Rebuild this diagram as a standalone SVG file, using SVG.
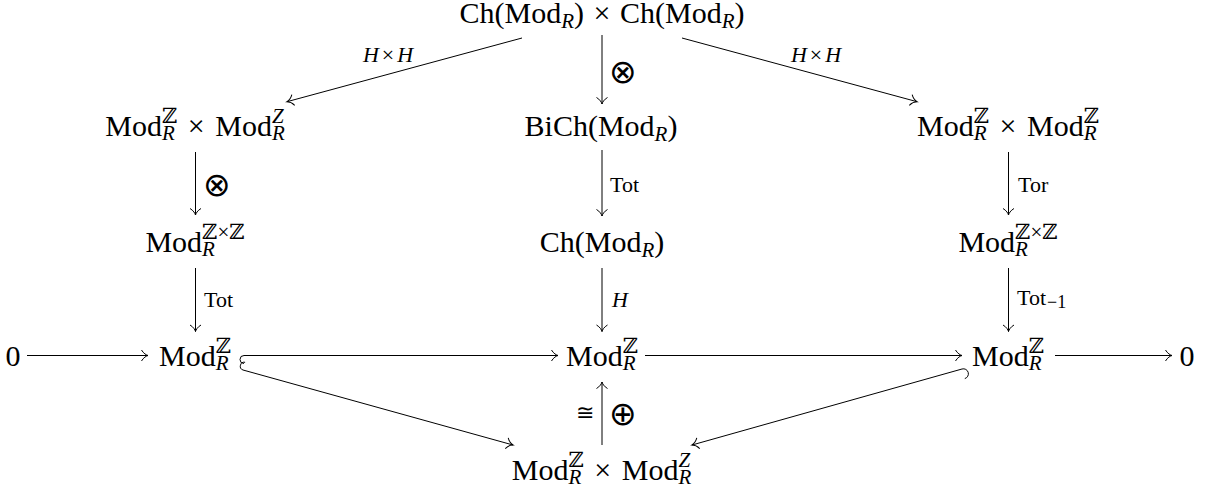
<svg xmlns="http://www.w3.org/2000/svg" width="1210" height="496" viewBox="0 0 1210 496">
<defs>
<style>
.m{font-family:"Liberation Serif",serif;font-size:30px;fill:#000}
.s{font-size:21px}
.i{font-style:italic}
.bb{font-family:"DejaVu Serif",serif}
.l{font-family:"Liberation Serif",serif;font-size:22px;fill:#000}
.op{font-family:"DejaVu Sans",sans-serif;font-size:33px;font-weight:200;fill:#000}
.c path{fill:none;stroke:#000;stroke-width:1}
.c .a{marker-end:url(#ah)}
</style>
<marker id="ah" markerUnits="userSpaceOnUse" orient="auto" refX="0" refY="0" markerWidth="20" markerHeight="20" viewBox="-10 -10 20 20" overflow="visible">
<path d="M-6.5,-5.5 C-4.5,-2 -1.5,-0.4 0,0 C-1.5,0.4 -4.5,2 -6.5,5.5" fill="none" stroke="#000" stroke-width="1"/>
</marker>
</defs>
<rect width="1210" height="496" fill="#fff"/>

<g id="n-top"><text class="m" x="602" y="23" text-anchor="middle">Ch(Mod<tspan class="s i" dy="5">R</tspan><tspan dy="-5">)</tspan><tspan dx="2"> ×</tspan><tspan dx="2"> Ch(Mod</tspan><tspan class="s i" dy="5">R</tspan><tspan dy="-5">)</tspan></text></g>

<g id="n-l2"><text class="m" x="195" y="136" text-anchor="middle">Mod<tspan class="s i" dy="4">R</tspan><tspan class="s bb" dx="-12.83" dy="-17">ℤ</tspan><tspan dy="13" dx="3"> ×</tspan><tspan dx="3"> Mod</tspan><tspan class="s i" dy="4">R</tspan><tspan class="s i" dx="-12.83" dy="-17">Z</tspan></text></g>

<g id="n-m2"><text class="m" x="601" y="136" text-anchor="middle">BiCh(Mod<tspan class="s i" dy="5">R</tspan><tspan dy="-5">)</tspan></text></g>

<g id="n-r2"><text class="m" x="1008" y="136" text-anchor="middle">Mod<tspan class="s i" dy="4">R</tspan><tspan class="s bb" dx="-12.83" dy="-17">ℤ</tspan><tspan dy="13" dx="3"> ×</tspan><tspan dx="3"> Mod</tspan><tspan class="s i" dy="4">R</tspan><tspan class="s bb" dx="-12.83" dy="-17">ℤ</tspan></text></g>

<g id="n-l3"><text class="m" x="195" y="252" text-anchor="middle">Mod<tspan class="s i" dy="4">R</tspan><tspan class="s bb" dx="-12.83" dy="-17">ℤ</tspan><tspan class="s">×</tspan><tspan class="s bb">ℤ</tspan></text></g>

<g id="n-m3"><text class="m" x="602" y="252" text-anchor="middle">Ch(Mod<tspan class="s i" dy="5">R</tspan><tspan dy="-5">)</tspan></text></g>

<g id="n-r3"><text class="m" x="1008" y="252" text-anchor="middle">Mod<tspan class="s i" dy="4">R</tspan><tspan class="s bb" dx="-12.83" dy="-17">ℤ</tspan><tspan class="s">×</tspan><tspan class="s bb">ℤ</tspan></text></g>

<g id="n-z1"><text class="m" x="13" y="366" text-anchor="middle">0</text></g>

<g id="n-l4"><text class="m" x="195" y="366" text-anchor="middle">Mod<tspan class="s i" dy="4">R</tspan><tspan class="s bb" dx="-12.83" dy="-17">ℤ</tspan></text></g>

<g id="n-m4"><text class="m" x="602" y="366" text-anchor="middle">Mod<tspan class="s i" dy="4">R</tspan><tspan class="s bb" dx="-12.83" dy="-17">ℤ</tspan></text></g>

<g id="n-r4"><text class="m" x="1008" y="366" text-anchor="middle">Mod<tspan class="s i" dy="4">R</tspan><tspan class="s bb" dx="-12.83" dy="-17">ℤ</tspan></text></g>

<g id="n-z2"><text class="m" x="1187" y="366" text-anchor="middle">0</text></g>

<g id="n-b5"><text class="m" x="601.5" y="480" text-anchor="middle">Mod<tspan class="s i" dy="4">R</tspan><tspan class="s bb" dx="-12.83" dy="-17">ℤ</tspan><tspan dy="13" dx="3"> ×</tspan><tspan dx="3"> Mod</tspan><tspan class="s i" dy="4">R</tspan><tspan class="s i" dx="-12.83" dy="-17">Z</tspan></text></g>

<g id="connectors" class="c">
<path class="a" d="M522 38 L287 101.7"/>
<path class="a" d="M602 35 L602 104"/>
<path class="a" d="M682 38 L917 101.7"/>
<path class="a" d="M195.5 152 L195.5 215"/>
<path class="a" d="M195.5 268 L195.5 331.5"/>
<path class="a" d="M602 150 L602 216"/>
<path class="a" d="M602 268 L602 331.5"/>
<path class="a" d="M1008.5 152 L1008.5 215"/>
<path class="a" d="M1008.5 268 L1008.5 331.5"/>
<path class="a" d="M27 355.5 L148 355.5"/>
<path class="a" d="M244 363.5 A4 4 0 0 1 244 355.5 L558 355.5"/>
<path class="a" d="M645 355.5 L962 355.5"/>
<path class="a" d="M1055 355.5 L1172 355.5"/>
<path class="a" d="M245.1 362.3 A4 4 0 0 0 243 370 L513 445"/>
<path class="a" d="M964.8 378.6 A5 5 0 0 0 962 369 L692 445"/>
<path class="a" d="M602 445 L602 382"/>
</g>

<g id="labels">
<text class="l" x="388" y="61.5" text-anchor="middle"><tspan class="i">H</tspan><tspan dx="3">×</tspan><tspan class="i" dx="3">H</tspan></text>
<text class="l" x="816" y="61.5" text-anchor="middle"><tspan class="i">H</tspan><tspan dx="3">×</tspan><tspan class="i" dx="3">H</tspan></text>
<text class="op" x="622.5" y="82.5" text-anchor="middle">⊗</text>
<text class="op" x="216.5" y="195.5" text-anchor="middle">⊗</text>
<text class="l" x="610" y="191.7">Tot</text>
<text class="l" x="204" y="306.7">Tot</text>
<text class="l i" x="612" y="307">H</text>
<text class="l" x="1018" y="192">Tor</text>
<text class="l" x="1017" y="305">Tot<tspan dx="1" dy="3" font-size="18">−1</tspan></text>
<text class="op" x="622.5" y="424.5" text-anchor="middle">⊕</text>
<text class="op" x="585" y="420" text-anchor="middle" style="font-size:22px">≅</text>
</g>
</svg>
